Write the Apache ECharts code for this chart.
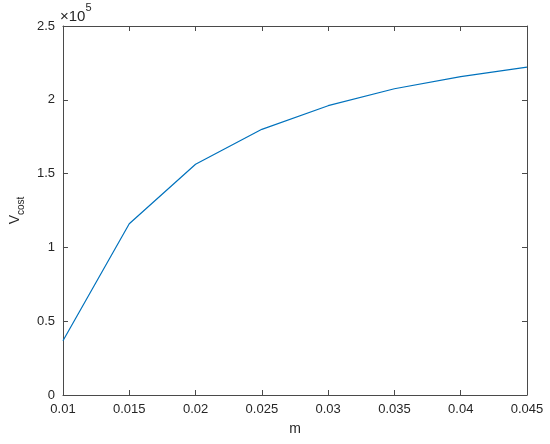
<!DOCTYPE html>
<html>
<head>
<meta charset="utf-8">
<script src="https://cdn.jsdelivr.net/npm/echarts@6/dist/echarts.min.js"></script>
<style>
  html, body { margin: 0; padding: 0; background: #fff; }
</style>
</head>
<body>
<div id="main" style="width:550px;height:444px;"></div>
<script>
// m values and cost
const mValues = [0.01, 0.015, 0.02, 0.025, 0.03, 0.035, 0.04, 0.045];
const costValues = [36800, 116000, 156300, 180000, 196000, 207500, 215700, 222200];
const yTicks = [0, 50000, 100000, 150000, 200000, 250000];

const axisColor = '#4a4a4a';
const fontFam = '"Liberation Sans", Arial, sans-serif';

let myChart = echarts.init(document.getElementById('main'));
myChart.setOption({
  animation: false,
  grid: { left: 60, top: 26, width: 467, height: 369, containLabel: false },
  graphic: [{
    type: 'text',
    left: 60, top: 2,
    style: {
      text: '{a|×10}{b|5}',
      fontSize: 15,
      fontFamily: fontFam,
      fill: '#262626',
      rich: {
        a: { fontSize: 15, fontFamily: fontFam, fill: '#262626', verticalAlign: 'bottom', lineHeight: 22, padding: [6, 0, 0, 0] },
        b: { fontSize: 11, fontFamily: fontFam, fill: '#262626', verticalAlign: 'top', lineHeight: 12 }
      }
    }
  }],
  xAxis: [{
    type: 'value',
    min: 0.01, max: 0.045, interval: 0.005,
    name: 'm', nameLocation: 'middle', nameGap: 27,
    nameTextStyle: { fontSize: 14, color: '#262626', fontFamily: fontFam },
    axisLine: { show: true, onZero: false, lineStyle: { color: axisColor, width: 1 } },
    axisTick: { show: true, inside: true, length: 5, lineStyle: { color: axisColor } },
    axisLabel: { fontSize: 13, color: '#262626', fontFamily: fontFam, margin: 8,
      formatter: v => String(+v.toFixed(3)) },
    splitLine: { show: false }
  }, {
    type: 'value', position: 'top',
    min: 0.01, max: 0.045, interval: 0.005,
    axisLine: { show: true, onZero: false, lineStyle: { color: axisColor, width: 1 } },
    axisTick: { show: true, inside: true, length: 5, lineStyle: { color: axisColor } },
    axisLabel: { show: false },
    splitLine: { show: false }
  }],
  yAxis: [{
    type: 'value',
    min: yTicks[0], max: yTicks[yTicks.length - 1], interval: 50000,
    name: '{v|V}{s|cost}', nameLocation: 'middle', nameGap: 36, nameRotate: 90,
    nameTextStyle: {
      rich: {
        v: { fontSize: 14, color: '#262626', fontFamily: fontFam, verticalAlign: 'bottom', lineHeight: 18 },
        s: { fontSize: 10, color: '#262626', fontFamily: fontFam, verticalAlign: 'bottom', lineHeight: 12, padding: [0, 0, -4, 0] }
      }
    },
    axisLine: { show: true, onZero: false, lineStyle: { color: axisColor, width: 1 } },
    axisTick: { show: true, inside: true, length: 5, lineStyle: { color: axisColor } },
    axisLabel: { fontSize: 13, color: '#262626', fontFamily: fontFam, margin: 8,
      formatter: v => String(+(v / 1e5).toFixed(1)) },
    splitLine: { show: false }
  }, {
    type: 'value', position: 'right',
    min: yTicks[0], max: yTicks[yTicks.length - 1], interval: 50000,
    axisLine: { show: true, onZero: false, lineStyle: { color: axisColor, width: 1 } },
    axisTick: { show: true, inside: true, length: 5, lineStyle: { color: axisColor } },
    axisLabel: { show: false },
    splitLine: { show: false }
  }],
  series: [{
    type: 'line',
    data: mValues.map((m, i) => [m, costValues[i]]),
    showSymbol: false,
    symbol: 'none',
    lineStyle: { color: '#0072BD', width: 1.2 },
    itemStyle: { color: '#0072BD' }
  }]
});
</script>
</body>
</html>
